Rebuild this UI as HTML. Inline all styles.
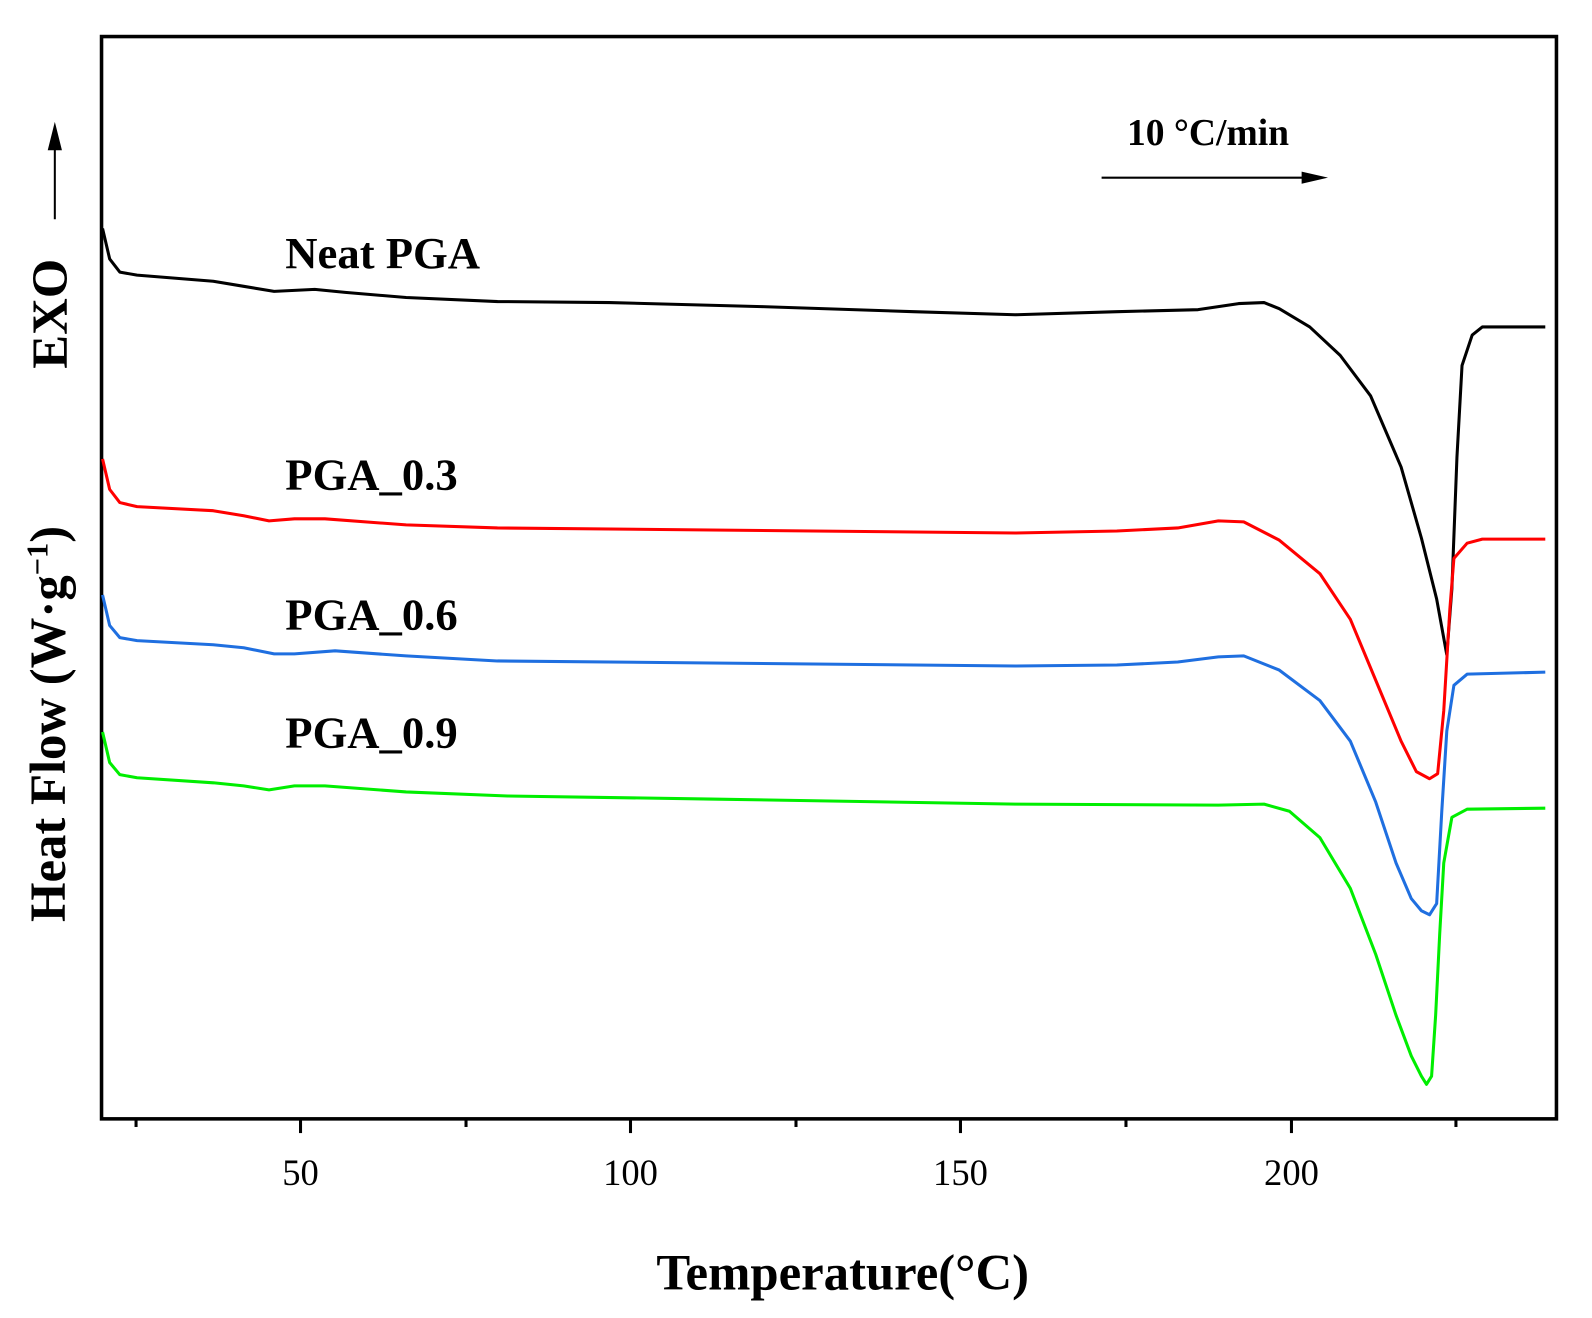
<!DOCTYPE html>
<html><head><style>html,body{margin:0;padding:0;background:#fff}svg{display:block}</style></head>
<body>
<svg width="1592" height="1318" xmlns="http://www.w3.org/2000/svg">
<g transform="scale(1.0153)" font-family="Liberation Serif, serif">
<rect x="100" y="36" width="1433" height="1066" fill="none" stroke="#000" stroke-width="3.5"/>
<g stroke="#000" stroke-width="3">
<line x1="134" y1="1102" x2="134" y2="1110"/>
<line x1="296" y1="1102" x2="296" y2="1116"/>
<line x1="459" y1="1102" x2="459" y2="1110"/>
<line x1="621" y1="1102" x2="621" y2="1116"/>
<line x1="784" y1="1102" x2="784" y2="1110"/>
<line x1="946" y1="1102" x2="946" y2="1116"/>
<line x1="1109" y1="1102" x2="1109" y2="1110"/>
<line x1="1272" y1="1102" x2="1272" y2="1116"/>
<line x1="1434" y1="1102" x2="1434" y2="1110"/>
</g>
<g font-size="36" text-anchor="middle">
<text x="296" y="1167">50</text><text x="621" y="1167">100</text><text x="946" y="1167">150</text><text x="1272" y="1167">200</text>
</g>
<text x="830" y="1270" font-size="50" font-weight="bold" text-anchor="middle">Temperature(°C)</text>
<text transform="translate(64,713) rotate(-90)" font-size="50" font-weight="bold" text-anchor="middle">Heat Flow (W·g<tspan dy="-17" font-size="30">−1</tspan><tspan dy="17">)</tspan></text>
<text transform="translate(66,309) rotate(-90)" font-size="50" font-weight="bold" text-anchor="middle">EXO</text>
<line x1="54" y1="216" x2="54" y2="145" stroke="#000" stroke-width="2"/>
<polygon points="54,120 47,148 61,148" fill="#000"/>
<text x="1110" y="143" font-size="37" font-weight="bold">10 °C/min</text>
<line x1="1085" y1="175" x2="1285" y2="175" stroke="#000" stroke-width="2"/>
<polygon points="1308,175 1282,169 1282,181" fill="#000"/>
<g font-size="44" font-weight="bold">
<text x="281" y="264">Neat PGA</text>
<text x="281" y="482">PGA_0.3</text>
<text x="281" y="620">PGA_0.6</text>
<text x="281" y="736">PGA_0.9</text>
</g>
<g fill="none" stroke-width="3" stroke-linejoin="round">
<polyline stroke="#000" points="101,225 108,255 118,268 135,271 210,277 240,282 270,287 290,286 310,285 340,288 400,293 490,297 600,298 750,302 900,307 1000,310 1100,307 1180,305 1220,299 1245,298 1260,304 1290,322 1320,350 1350,390 1380,460 1400,530 1415,590 1425,645 1430,580 1435,450 1440,360 1450,330 1460,322 1522,322"/>
<polyline stroke="#ff0000" points="101,452 108,482 118,495 135,499 210,503 240,508 265,513 290,511 320,511 400,517 490,520 700,522 1000,525 1100,523 1160,520 1200,513 1225,514 1260,532 1300,565 1330,610 1355,670 1380,730 1395,760 1408,767 1416,762 1422,700 1428,600 1432,550 1445,535 1460,531 1522,531"/>
<polyline stroke="#1f6fe0" points="101,586 108,616 118,628 135,631 210,635 240,638 270,644 290,644 330,641 400,646 490,651 700,653 1000,656 1100,655 1160,652 1200,647 1225,646 1260,660 1300,690 1330,730 1355,790 1375,850 1390,885 1400,897 1408,901 1415,890 1420,800 1425,720 1432,675 1445,664 1522,662"/>
<polyline stroke="#00ee00" points="101,721 108,751 118,763 135,766 210,771 240,774 265,778 290,774 320,774 400,780 500,784 700,787 1000,792 1200,793 1245,792 1270,799 1300,825 1330,875 1355,940 1375,1000 1390,1040 1400,1060 1405,1068 1410,1060 1414,1000 1418,920 1422,850 1430,805 1445,797 1522,796"/>
</g>
</g>
</svg>
</body></html>
